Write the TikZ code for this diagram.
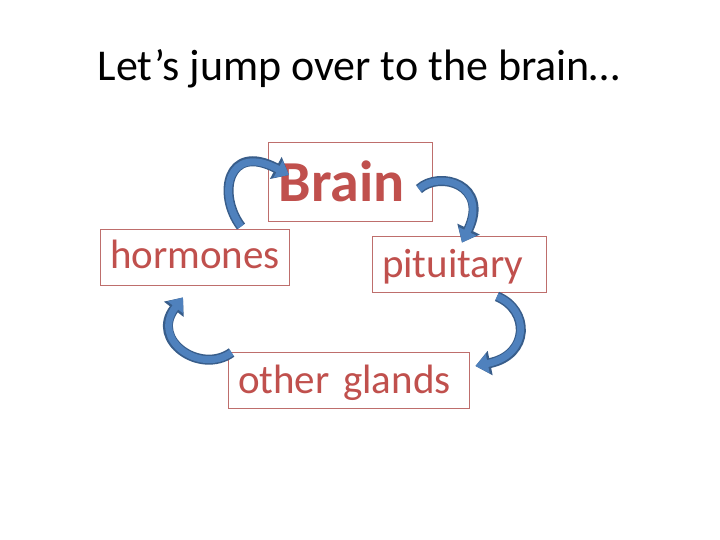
\documentclass[tikz,border=0pt]{standalone}
\usepackage{fontspec}
\setmainfont{Carlito}
\usetikzlibrary{arrows.meta,calc}
\definecolor{txtred}{HTML}{C0504D}
\definecolor{boxred}{HTML}{BE6E6C}
\definecolor{arrblue}{HTML}{4F81BD}
\definecolor{arrdark}{HTML}{385D8A}
\tikzset{
  labelbox/.style={draw=boxred, line width=0.9pt, text=txtred, inner xsep=10pt, inner ysep=0pt, align=left},
  arrout/.style={draw=arrdark, line width=10pt, -{Triangle[length=15pt,width=24pt]}},
  arrin/.style={draw=arrblue, line width=7pt, -{Triangle[length=12.5pt,width=19pt]}},
}
\newcommand{\curvearrow}[4]{%
  \draw[arrout] #1 .. controls #2 and #3 .. #4;
  \draw[arrin] #1 .. controls #2 and #3 .. #4;
}
\begin{document}
\begin{tikzpicture}[x=1pt,y=-1pt]
\useasboundingbox (0,0) rectangle (720,540);
\fill[white] (0,0) rectangle (720,540);
\node[anchor=base, inner sep=0pt, font=\fontsize{44}{50}\selectfont] (title) at (359,81) {Let’s jump over to the brain…};
\node[labelbox, text width=144pt, minimum height=79pt, text height=41pt, text depth=0pt, font=\fontsize{58}{60}\selectfont\bfseries] (brain) at (350.5,181.5) {\mbox{Brain}};
\node[labelbox, text width=169pt, minimum height=56pt, text height=30pt, text depth=8pt, font=\fontsize{41}{44}\selectfont] (hormones) at (194.5,257) {\mbox{hormones}};
\node[labelbox, text width=154pt, minimum height=56pt, text height=34pt, text depth=8pt, font=\fontsize{41}{44}\selectfont] (pituitary) at (459,264) {\mbox{pituitary}};
\node[labelbox, text width=221pt, minimum height=56pt, text height=34pt, text depth=8pt, font=\fontsize{41}{44}\selectfont] (other) at (348.5,380) {\mbox{other glands}};
\curvearrow{($(hormones.north)+(46.5,-2)$)}{(217,195)}{(227,142)}{($(brain.west)+(21,-6.5)$)}
\curvearrow{($(brain.east)+(-14,7.5)$)}{(440,170)}{(490,185)}{($(pituitary.north)+(3,7)$)}
\curvearrow{($(pituitary.south)+(38,4)$)}{(530,310)}{(530,355)}{($(other.east)+(6,-14)$)}
\curvearrow{($(other.north west)+(4,1)$)}{(200,375)}{(150,340)}{($(hormones.south)+(-11.5,12)$)}
\end{tikzpicture}
\end{document}
